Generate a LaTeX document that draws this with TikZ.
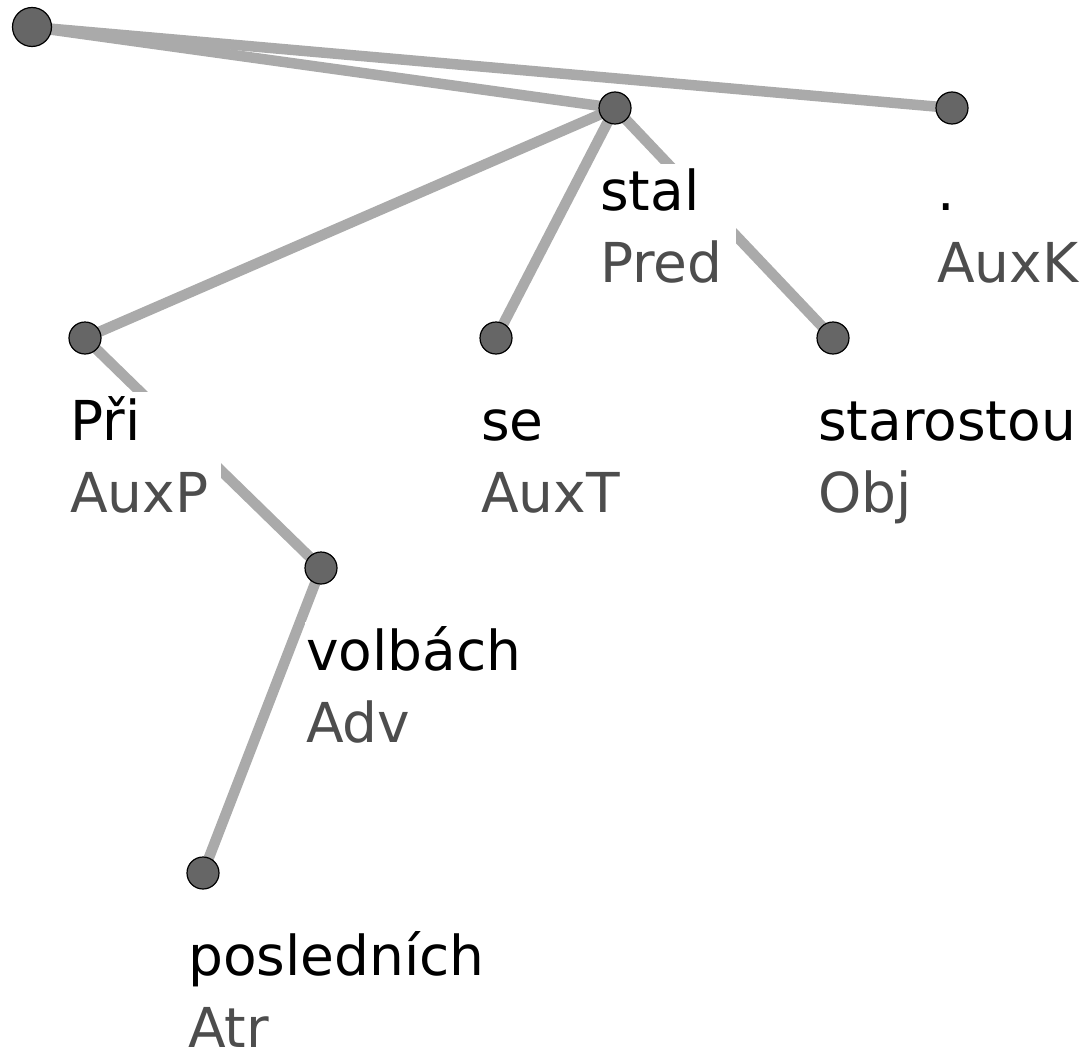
\documentclass[tikz,border=0pt]{standalone}
\usepackage{fontspec}
\setmainfont{DejaVu Sans}
\usetikzlibrary{backgrounds,calc}
\definecolor{edgegray}{HTML}{AAAAAA}
\definecolor{tokfill}{HTML}{666666}
\definecolor{fngray}{HTML}{4D4D4D}
\tikzset{
  tok/.style={circle, draw=black, line width=1.2pt, fill=tokfill, minimum size=32pt, inner sep=0pt},
  roottok/.style={tok, minimum size=39pt},
  dep/.style={draw=edgegray, line width=10.5pt},
  lbl/.style={anchor=base west, fill=white, align=left, inner xsep=1pt, inner ysep=4pt,
              font=\fontsize{55}{72}\selectfont},
}
% label below a token: word form, then its function in grey
% (the base anchor of a two-line node sits on the second line;
%  the white box reaches a little past the text on the right)
\newcommand{\tlabel}[4]{%
  \node[lbl] (#1-l) at ($(#2)+(-16,174)$)
    {#3\hspace*{12pt}\\\textcolor{fngray}{#4}\hspace*{12pt}};}
\begin{document}
\begin{tikzpicture}[x=1pt,y=-1pt]
  \useasboundingbox (0,0) rectangle (1086,1054);
  % token nodes
  \node[roottok] (root) at (32,27) {};
  \node[tok] (stal) at (615,108) {};
  \node[tok] (dot)  at (952,108) {};
  \node[tok] (pri)  at (85,338) {};
  \node[tok] (se)   at (496,338) {};
  \node[tok] (star) at (833,338) {};
  \node[tok] (volb) at (321,568) {};
  \node[tok] (posl) at (203,873) {};
  % dependency edges
  \begin{scope}[on background layer]
    \draw[dep] (root.center) -- (stal.center);
    \draw[dep] (root.center) -- (dot.center);
    \draw[dep] (stal.center) -- (pri.center);
    \draw[dep] (stal.center) -- (se.center);
    \draw[dep] (stal.center) -- (star.center);
    \draw[dep] (pri.center) -- (volb.center);
    \draw[dep] (volb.center) -- (posl.center);
  \end{scope}
  % word forms and functions
  \tlabel{stal}{stal}{stal}{Pred}
  \tlabel{dot}{dot}{.}{AuxK}
  \tlabel{pri}{pri}{Při}{AuxP}
  \tlabel{se}{se}{se}{AuxT}
  \tlabel{star}{star}{starostou}{Obj}
  \tlabel{volb}{volb}{volbách}{Adv}
  \tlabel{posl}{posl}{posledních}{Atr}
\end{tikzpicture}
\end{document}
